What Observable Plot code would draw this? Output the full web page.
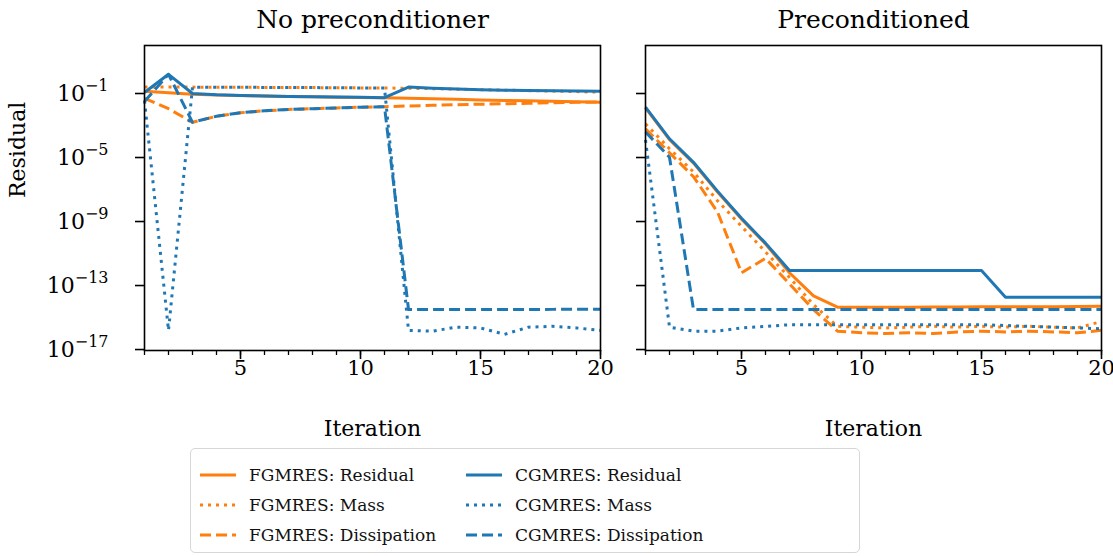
<!DOCTYPE html>
<html><head><meta charset="utf-8">
<script src="https://cdn.jsdelivr.net/npm/d3@7"></script>
<script src="https://cdn.jsdelivr.net/npm/@observablehq/plot@0.6"></script>
<style>
body{margin:0;background:#fff;}
#wrap{position:relative;width:1113px;height:556px;background:#fff;font-family:"DejaVu Serif",serif;overflow:hidden}
#wrap > svg{position:absolute;top:0;overflow:visible;background:transparent}
#legend{position:absolute;left:190px;top:448px;width:668px;height:103px;border:1.5px solid #d6d6d6;border-radius:5px;background:#fff;}
.item{position:absolute;height:30px;display:flex;align-items:center;font-size:17px;color:#111;white-space:nowrap}
.item svg{margin-right:13px}
</style></head><body><div id="wrap"><div id="legend"></div></div>
<script>
// ---- data (values are log10 of the residual) ----
const iterations = d3.range(1, 21);
const panelTitles = ["No preconditioner", "Preconditioned"];
const methods = ["FGMRES", "CGMRES"];
const kinds = ["Residual", "Mass", "Dissipation"];
const methodColors = ["#ff7f0e", "#1f77b4"];
const kindDashes = ["none", "3,5", "11,5"];

// No preconditioner
const noPrecFgmresResidual = [-0.86,-0.95,-1.05,-1.1,-1.13,-1.16,-1.19,-1.21,-1.23,-1.25,-1.27,-1.3,-1.33,-1.36,-1.4,-1.43,-1.46,-1.49,-1.52,-1.54];
const noPrecFgmresMass     = [-0.6,-0.6,-0.6,-0.61,-0.61,-0.62,-0.62,-0.63,-0.64,-0.65,-0.66,-0.67,-0.7,-0.73,-0.76,-0.79,-0.82,-0.85,-0.88,-0.92];
const noPrecFgmresDiss     = [-1.3,-1.95,-2.8,-2.42,-2.2,-2.08,-2.0,-1.95,-1.9,-1.86,-1.82,-1.78,-1.74,-1.7,-1.67,-1.64,-1.61,-1.58,-1.55,-1.53];
const noPrecCgmresResidual = [-0.94,0.2,-1.0,-1.08,-1.12,-1.15,-1.18,-1.2,-1.22,-1.24,-1.26,-0.6,-0.67,-0.72,-0.76,-0.79,-0.81,-0.83,-0.85,-0.86];
const noPrecCgmresMass     = [-1.45,-15.8,-0.6,-0.61,-0.61,-0.62,-0.62,-0.63,-0.64,-0.65,-0.66,-15.8,-15.85,-15.6,-15.65,-16.05,-15.6,-15.55,-15.65,-15.8];
const noPrecCgmresDiss     = [-1.5,0.2,-2.8,-2.42,-2.2,-2.08,-2.0,-1.95,-1.9,-1.86,-1.82,-14.5,-14.5,-14.5,-14.5,-14.5,-14.5,-14.49,-14.48,-14.48];

// Preconditioned
const precFgmresResidual = [-1.9,-3.88,-5.35,-7.15,-8.85,-10.4,-12.2,-13.65,-14.35,-14.35,-14.35,-14.35,-14.34,-14.34,-14.33,-14.33,-14.32,-14.32,-14.31,-14.3];
const precFgmresMass     = [-2.9,-4.45,-5.9,-7.7,-9.3,-10.9,-12.5,-14.2,-15.55,-15.6,-15.65,-15.6,-15.55,-15.6,-15.55,-15.6,-15.55,-15.6,-15.65,-15.25];
const precFgmresDiss     = [-3.2,-4.7,-6.2,-8.4,-12.2,-11.3,-12.9,-14.5,-15.85,-15.95,-16.0,-15.95,-16.0,-15.9,-15.85,-15.9,-15.85,-15.9,-15.95,-15.8];
const precCgmresResidual = [-1.85,-3.83,-5.3,-7.1,-8.8,-10.35,-12.06,-12.06,-12.06,-12.06,-12.06,-12.06,-12.06,-12.06,-12.06,-13.73,-13.73,-13.73,-13.73,-13.73];
const precCgmresMass     = [-3.9,-15.6,-15.85,-15.85,-15.65,-15.55,-15.45,-15.45,-15.45,-15.45,-15.45,-15.45,-15.45,-15.45,-15.45,-15.5,-15.55,-15.6,-15.65,-15.7];
const precCgmresDiss     = [-3.4,-4.98,-14.5,-14.5,-14.5,-14.5,-14.5,-14.5,-14.5,-14.5,-14.5,-14.5,-14.5,-14.5,-14.5,-14.5,-14.5,-14.5,-14.5,-14.5];

const xTicks = [5, 10, 15, 20];
const yTickExponents = [-1, -5, -9, -13, -17];
const xLabel = "Iteration";
const yLabel = "Residual";

const panels = [
  [[noPrecFgmresResidual, noPrecFgmresMass, noPrecFgmresDiss], [noPrecCgmresResidual, noPrecCgmresMass, noPrecCgmresDiss]],
  [[precFgmresResidual, precFgmresMass, precFgmresDiss], [precCgmresResidual, precCgmresMass, precCgmresDiss]]
];

const FONT = "DejaVu Serif";
const wrap = document.getElementById("wrap");

function makePanel(p, left, marginLeft, marginRight, showLabels) {
  const lines = [];
  methods.forEach((m, mi) => {
    kinds.forEach((k, ki) => {
      const rows = iterations.map((it, i) => ({iter: it, value: Math.pow(10, panels[p][mi][ki][i])}));
      lines.push(Plot.line(rows, {x: "iter", y: "value", stroke: methodColors[mi], strokeWidth: 3,
        strokeDasharray: kindDashes[ki] === "none" ? undefined : kindDashes[ki], strokeLinecap: "butt", strokeLinejoin: "round"}));
    });
  });
  const marks = [
    ...lines,
    Plot.frame({stroke: "black", strokeWidth: 1.6}),
    Plot.axisX({ticks: iterations, tickSize: 5, strokeWidth: 1.3, tickFormat: () => "", label: null}),
    Plot.axisX({ticks: xTicks, tickSize: 9, strokeWidth: 1.6, tickPadding: 1, fontSize: 21, fontFamily: FONT, tickFormat: d => String(d), label: null}),
    Plot.axisY({ticks: yTickExponents.map(e => Math.pow(10, e)), tickSize: 9, strokeWidth: 1.6, tickPadding: 27, fontSize: 22, fontFamily: FONT,
      tickFormat: showLabels ? (d => "10^" + Math.round(Math.log10(d))) : (() => ""), label: null}),
    Plot.text([panelTitles[p]], {text: d => d, frameAnchor: "top", dy: -26, lineAnchor: "middle", fontSize: 25, fontFamily: FONT, fill: "black"}),
    Plot.text([xLabel], {text: d => d, frameAnchor: "bottom", dy: 78, lineAnchor: "middle", fontSize: 22, fontFamily: FONT, fill: "black"})
  ];
  if (showLabels) {
    marks.push(Plot.text([yLabel], {text: d => d, frameAnchor: "left", dx: -127, rotate: -90, lineAnchor: "middle", fontSize: 22, fontFamily: FONT, fill: "black"}));
  }
  const svg = Plot.plot({
    width: marginLeft + 456 + marginRight,
    height: 450,
    marginLeft, marginRight, marginTop: 45, marginBottom: 100,
    style: {background: "transparent", overflow: "visible", fontFamily: FONT, color: "black"},
    x: {type: "linear", domain: [1, 20]},
    y: {type: "log", domain: [Math.pow(10, -17.06), 100]},
    marks
  });
  svg.style.left = left + "px";
  // superscripts for the log tick labels
  svg.querySelectorAll('g[aria-label="y-axis tick label"] text').forEach(t => {
    const s = t.textContent;
    if (!s.includes("^")) return;
    const [base, exp] = s.split("^");
    t.textContent = "";
    const ns = "http://www.w3.org/2000/svg";
    const b = document.createElementNS(ns, "tspan"); b.textContent = base; t.appendChild(b);
    const e = document.createElementNS(ns, "tspan");
    e.textContent = exp.replace("-", "\u2212");
    e.setAttribute("font-size", "16");
    e.setAttribute("dy", "-10");
    t.appendChild(e);
  });
  return svg;
}

wrap.appendChild(makePanel(0, 0, 144, 1, true));
wrap.appendChild(makePanel(1, 601, 44, 12, false));

// legend
const legend = document.getElementById("legend");
const rowTops = [11, 41, 71];
const colLefts = [9, 275];
methods.forEach((m, mi) => {
  kinds.forEach((k, ki) => {
    const item = document.createElement("div");
    item.className = "item";
    item.style.left = colLefts[mi] + "px";
    item.style.top = rowTops[ki] + "px";
    const dash = kindDashes[ki] === "none" ? "" : `stroke-dasharray="${kindDashes[ki]}"`;
    item.innerHTML = `<svg width="36" height="10"><line x1="0" x2="36" y1="5" y2="5" stroke="${methodColors[mi]}" stroke-width="3" ${dash}/></svg><span>${m}: ${k}</span>`;
    legend.appendChild(item);
  });
});
</script>
</body></html>
